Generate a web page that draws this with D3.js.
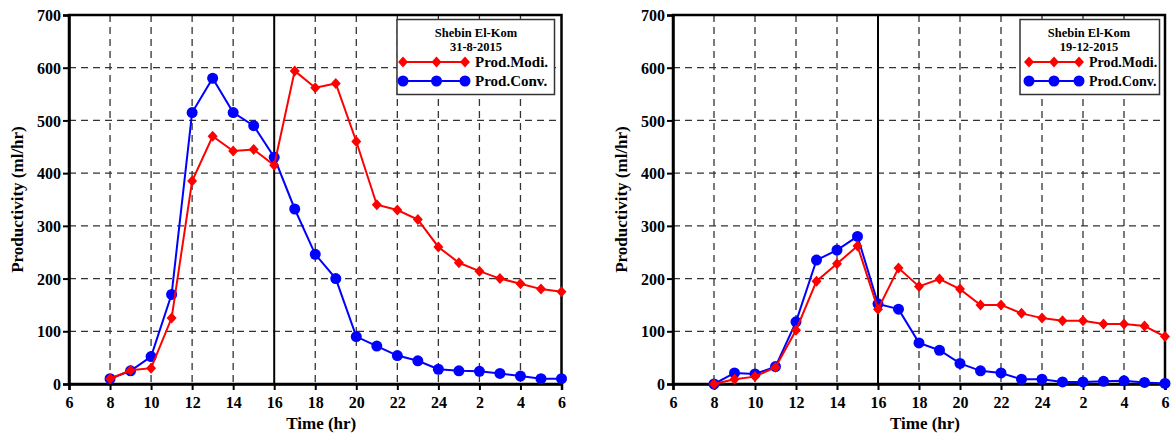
<!DOCTYPE html>
<html><head><meta charset="utf-8">
<script src="https://cdn.jsdelivr.net/npm/d3@7"></script>
<style>body{margin:0;background:#fff}svg{display:block}text{font-family:"Liberation Serif","Times New Roman",serif;font-weight:bold}</style>
</head><body>
<script>
const hours = [8,9,10,11,12,13,14,15,16,17,18,19,20,21,22,23,24,25,26,27,28,29,30];
const xTicks = [6,8,10,12,14,16,18,20,22,24,26,28,30];
const xTickLabels = ["6","8","10","12","14","16","18","20","22","24","2","4","6"];
const yTicks = [0,100,200,300,400,500,600,700];
const seriesNames = ["Prod.Modi.","Prod.Conv."];
const siteName = "Shebin El-Kom";
const dates = ["31-8-2015","19-12-2015"];
const modiAug = [10,26,30,125,385,470,442,445,415,594,562,570,460,340,330,312,260,230,214,200,190,180,175];
const convAug = [10,25,52,170,515,580,515,490,430,332,246,200,90,72,54,44,28,25,24,20,15,10,10];
const modiDec = [0,9,14,32,102,195,228,262,142,220,185,199,180,150,150,134,125,120,120,114,114,110,90];
const convDec = [0,21,19,33,118,235,254,280,152,142,78,64,39,25,21,9,9,4,4,5,6,3,1];

const W=1173,H=438;
const svg=d3.select("body").append("svg").attr("width",W).attr("height",H);

function chart(cfg){
  const g=svg.append("g");
  const x=d3.scaleLinear().domain([6,30]).range([cfg.x0,cfg.x1]);
  const y=d3.scaleLinear().domain([0,700]).range([384,15]);
  // grid
  g.selectAll(".gy").data(yTicks.filter(d=>d>0&&d<700)).join("line")
    .attr("x1",cfg.x0).attr("x2",cfg.x1).attr("y1",d=>y(d)).attr("y2",d=>y(d))
    .attr("stroke","#333").attr("stroke-width",1.3).attr("stroke-dasharray","7,5");
  g.selectAll(".gx").data(xTicks.filter(d=>d>6&&d<30&&d!==16)).join("line")
    .attr("x1",d=>x(d)).attr("x2",d=>x(d)).attr("y1",y(700)).attr("y2",y(0))
    .attr("stroke","#333").attr("stroke-width",1.3).attr("stroke-dasharray","7,5");
  g.append("line").attr("x1",x(16)).attr("x2",x(16)).attr("y1",y(700)).attr("y2",y(0))
    .attr("stroke","#000").attr("stroke-width",2);
  // axes
  const ax=g.append("g").attr("transform",`translate(0,${y(0)})`)
    .call(d3.axisBottom(x).tickValues(xTicks).tickFormat((d,i)=>xTickLabels[i]).tickSize(6).tickPadding(4));
  const ay=g.append("g").attr("transform",`translate(${cfg.x0},0)`)
    .call(d3.axisLeft(y).tickValues(yTicks).tickSize(6).tickPadding(2));
  [ax,ay].forEach(a=>{a.select(".domain").attr("stroke-width",2.5);a.selectAll(".tick line").attr("stroke-width",2);
    a.selectAll("text").attr("font-size",16).attr("fill","#000").style("font-family","Liberation Serif").style("font-weight","bold");});
  ax.selectAll("text").attr("dy","0.9em");
  ay.selectAll("text").attr("dy","0.35em");
  // frame top/right
  g.append("rect").attr("x",cfg.x0).attr("y",y(700)).attr("width",cfg.x1-cfg.x0).attr("height",y(0)-y(700))
    .attr("fill","none").attr("stroke","#000").attr("stroke-width",2.5);
  // titles
  g.append("text").attr("transform",`translate(${cfg.x0-46},${(y(0)+y(700))/2}) rotate(-90)`)
    .attr("text-anchor","middle").attr("font-size",17).text("Productivity (ml/hr)");
  g.append("text").attr("x",(cfg.x0+cfg.x1)/2+6).attr("y",429).attr("text-anchor","middle").attr("font-size",17).text("Time (hr)");
  // series
  const line=d3.line().x((d,i)=>x(hours[i])).y(d=>y(d));
  const diamond=d3.symbol().type(d3.symbolSquare).size(50);
  const dT=(px,py)=>`translate(${px},${py}) scale(1,1.1) rotate(45)`;
  function drawConv(data){
    g.append("path").datum(data).attr("d",line).attr("fill","none").attr("stroke","#0000ff").attr("stroke-width",2);
    g.selectAll(null).data(data).join("circle").attr("cx",(d,i)=>x(hours[i])).attr("cy",d=>y(d)).attr("r",5.5).attr("fill","#0000ff");
  }
  function drawModi(data){
    g.append("path").datum(data).attr("d",line).attr("fill","none").attr("stroke","#ff0000").attr("stroke-width",2);
    g.selectAll(null).data(data).join("path").attr("d",diamond)
      .attr("transform",(d,i)=>dT(x(hours[i]),y(d))).attr("fill","#ff0000");
  }
  drawConv(cfg.conv); drawModi(cfg.modi);
  // legend
  const L=cfg.leg;
  g.append("rect").attr("x",L.x).attr("y",19.5).attr("width",L.w).attr("height",75)
    .attr("fill","#fff").attr("stroke","#333").attr("stroke-width",1.5);
  g.append("text").attr("x",L.tc).attr("y",37).attr("text-anchor","middle").attr("font-size",12.5).text(siteName);
  g.append("text").attr("x",L.tc).attr("y",51).attr("text-anchor","middle").attr("font-size",12.5).text(cfg.date);
  const rows=[{c:"#ff0000",t:seriesNames[0],y:62,m:"d"},{c:"#0000ff",t:seriesNames[1],y:81,m:"c"}];
  rows.forEach(r=>{
    g.append("line").attr("x1",L.m[0]).attr("x2",L.m[2]).attr("y1",r.y).attr("y2",r.y).attr("stroke",r.c).attr("stroke-width",2);
    L.m.forEach(mx=>{
      if(r.m==="c") g.append("circle").attr("cx",mx).attr("cy",r.y).attr("r",5.5).attr("fill",r.c);
      else g.append("path").attr("d",diamond).attr("transform",dT(mx,r.y)).attr("fill",r.c);
    });
    g.append("text").attr("x",L.m[2]+10).attr("y",r.y+5).attr("font-size",cfg.legFont).text(r.t);
  });
}
chart({x0:69,x1:561.5,modi:modiAug,conv:convAug,date:dates[0],legFont:15,
  leg:{x:397,w:157.5,tc:476,m:[403,436.5,465]}});
chart({x0:673,x1:1165,modi:modiDec,conv:convDec,date:dates[1],legFont:14,
  leg:{x:1020,w:139.5,tc:1089,m:[1029,1054,1079]}});
</script>
</body></html>
